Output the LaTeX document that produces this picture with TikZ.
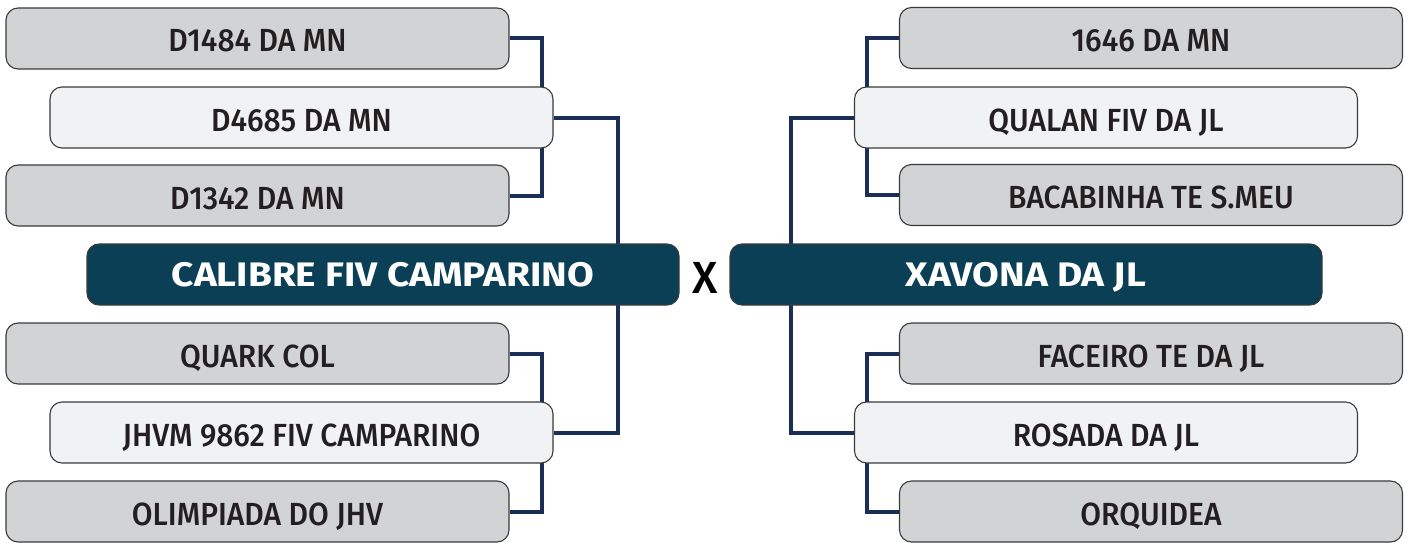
\documentclass[tikz,border=0pt]{standalone}
\usepackage{fontspec}
\IfFontExistsTF{Fira Sans Medium}
  {\newfontfamily\medfont{Fira Sans Medium}[FakeStretch=0.94]
   \newfontfamily\xfont{Fira Sans Medium}[FakeStretch=1.0]}
  {\newfontfamily\medfont{Fira Sans}[FakeStretch=0.94,FakeBold=0.6]
   \newfontfamily\xfont{Fira Sans}[FakeBold=0.6]}
\newfontfamily\boldfont{Fira Sans Bold}[FakeStretch=1.14]
\usetikzlibrary{backgrounds}
\definecolor{boxgray}{HTML}{D1D3D4}
\definecolor{boxlight}{HTML}{F1F2F4}
\definecolor{boxdark}{HTML}{0B3F56}
\definecolor{linenavy}{HTML}{1B2E57}
\definecolor{edgegray}{HTML}{3A3A3A}
\definecolor{txt}{HTML}{231F20}
\tikzset{
  entry/.style={draw=edgegray, line width=1.1pt, rounded corners=12pt,
    minimum width=503pt, minimum height=61pt, inner sep=0pt,
    text height=27pt, text depth=0pt,
    font=\medfont\fontsize{32}{32}\selectfont, text=txt},
  graybox/.style={entry, fill=boxgray},
  lightbox/.style={entry, fill=boxlight},
  finalbox/.style={draw=edgegray, line width=1.1pt, rounded corners=12pt,
    fill=boxdark, minimum width=592pt, minimum height=61pt, inner sep=0pt,
    text height=24pt, text depth=0pt,
    font=\boldfont\fontsize{34}{34}\selectfont, text=white},
  link/.style={draw=linenavy, line width=4pt}
}
\begin{document}
\begin{tikzpicture}[x=1pt,y=-1pt]
\useasboundingbox (0,0) rectangle (1410,543);
% left side
\node[graybox]  (l1) at (257.5,38.5)  {D1484 DA MN};
\node[lightbox] (l2) at (301.5,117.5) {D4685 DA MN};
\node[graybox]  (l3) at (257.5,195.5) {D1342 DA MN};
\node[finalbox] (lf) at (383,274.5)   {CALIBRE FIV CAMPARINO};
\node[graybox]  (l4) at (257.5,353.5) {QUARK COL};
\node[lightbox] (l5) at (301.5,432.5) {JHVM 9862 FIV CAMPARINO};
\node[graybox]  (l6) at (257.5,511.5) {OLIMPIADA DO JHV};
% right side
\node[graybox]  (r1) at (1151,38)     {1646 DA MN};
\node[lightbox] (r2) at (1106,117.5)  {QUALAN FIV DA JL};
\node[graybox]  (r3) at (1151,195)    {BACABINHA TE S.MEU};
\node[finalbox] (rf) at (1026,274.5)  {XAVONA DA JL};
\node[graybox]  (r4) at (1151,353.5)  {FACEIRO TE DA JL};
\node[lightbox] (r5) at (1106,432.5)  {ROSADA DA JL};
\node[graybox]  (r6) at (1151,511.5)  {ORQUIDEA};
% versus
\node[font=\xfont\fontsize{45}{45}\selectfont, text=black, inner sep=0pt,
      text height=31pt, text depth=0pt] (vs) at (705,277.5) {X};
\begin{pgfonlayer}{background}
\draw[link] (l1.east) -- ++(32,0) |- (l3.east);
\draw[link] (l4.east) -- ++(32,0) |- (l6.east);
\draw[link] (l2.east) -- ++(64,0) |- (l5.east);
\draw[link] (r1.west) -- ++(-32,0) |- (r3.west);
\draw[link] (r4.west) -- ++(-32,0) |- (r6.west);
\draw[link] (r2.west) -- ++(-63,0) |- (r5.west);
\end{pgfonlayer}
\end{tikzpicture}
\end{document}
